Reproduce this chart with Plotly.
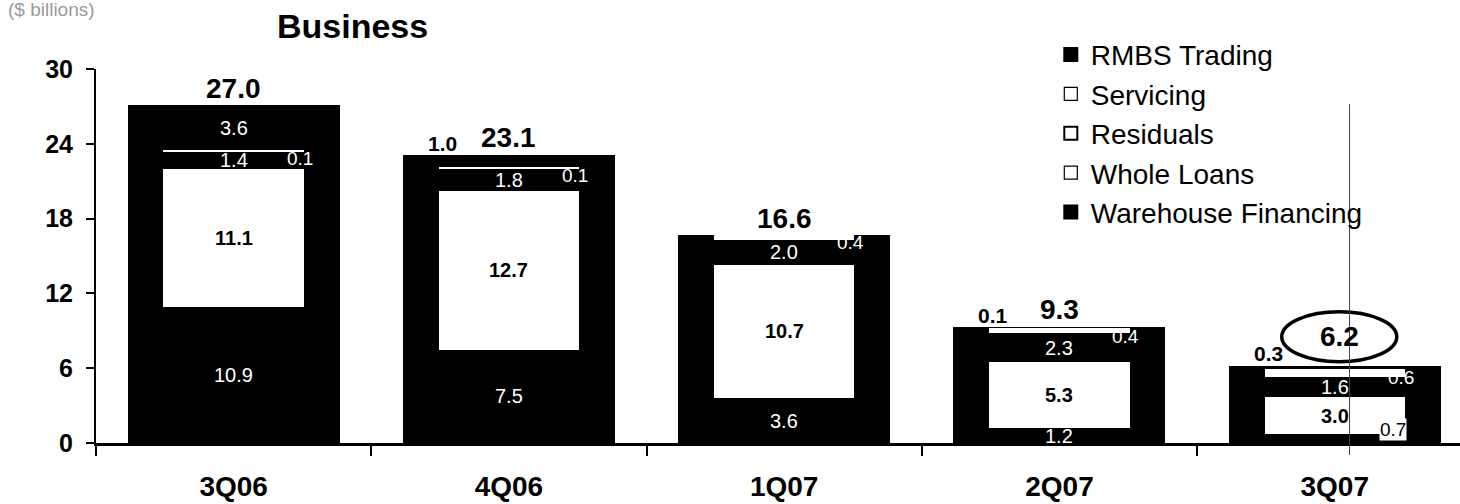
import plotly.graph_objects as go

# Quarterly exposure of the mortgage business, $ billions
quarters = ["3Q06", "4Q06", "1Q07", "2Q07", "3Q07"]
warehouse = [10.9, 7.5, 3.6, 1.2, 0.7]
whole_loans = [11.1, 12.7, 10.7, 5.3, 3.0]
servicing = [1.4, 1.8, 2.0, 2.3, 1.6]
residuals = [0.1, 0.1, 0.4, 0.4, 0.6]
rmbs = [3.6, 1.0, 0.0, 0.1, 0.3]
totals = [27.0, 23.1, 16.6, 9.3, 6.2]
y_ticks = [0, 6, 12, 18, 24, 30]

FONT = "Liberation Sans, Arial, Helvetica, sans-serif"
BAR_W = 0.77
INSET_W = 0.51
CLEAR = "rgba(0,0,0,0)"

fig = go.Figure()

# Full-width stack, all segments dark
for vals in [warehouse, whole_loans, servicing, residuals, rmbs]:
    fig.add_trace(go.Bar(x=quarters, y=vals, width=BAR_W, marker=dict(color="black", line=dict(width=0)),
                         showlegend=False, hoverinfo="skip"))

# Narrower light panels for the whole-loan and residual layers, stacked on an overlay axis
for vals, col in [(warehouse, CLEAR), (whole_loans, "white"), (servicing, CLEAR), (residuals, "white")]:
    fig.add_trace(go.Bar(x=quarters, y=vals, width=INSET_W, xaxis="x2", yaxis="y2",
                         marker=dict(color=col, line=dict(width=0)), showlegend=False, hoverinfo="skip"))

# Legend entries
legend_items = [
    ("RMBS Trading", "square", 2),
    ("Servicing", "square-open", 1.2),
    ("Residuals", "square-open", 2),
    ("Whole Loans", "square-open", 1.2),
    ("Warehouse Financing", "square", 2),
]
for name, sym, lw in legend_items:
    fig.add_trace(go.Scatter(x=[None], y=[None], mode="markers", name=name,
                             marker=dict(symbol=sym, size=13, color="black", line=dict(color="black", width=lw))))

ann = []
def label(q, y, text, color, size, bold=False, xshift=0, yshift=0, bg=None):
    a = dict(x=q, y=y, xref="x", yref="y", text=f"<b>{text}</b>" if bold else text,
             showarrow=False, xshift=xshift, yshift=yshift, borderpad=0,
             font=dict(family=FONT, size=size, color=color))
    if bg:
        a["bgcolor"] = bg
    ann.append(a)

for i, q in enumerate(quarters):
    b1 = warehouse[i]
    b2 = b1 + whole_loans[i]
    b3 = b2 + servicing[i]
    b4 = b3 + residuals[i]
    top = b4 + rmbs[i]
    # warehouse financing
    if warehouse[i] >= 1:
        label(q, b1 / 2, f"{warehouse[i]:.1f}", "white", 20)
    else:
        label(q, b1, f"{warehouse[i]:.1f}", "black", 19, xshift=58, yshift=5, bg="white")
    # whole loans
    label(q, b1 + whole_loans[i] / 2, f"{whole_loans[i]:.1f}", "black", 20, bold=True)
    # servicing
    label(q, b2 + servicing[i] / 2, f"{servicing[i]:.1f}", "white", 20)
    # residuals
    label(q, b4, f"{residuals[i]:.1f}", "white", 19, xshift=66, yshift=-8)
    # RMBS trading
    if rmbs[i] >= 2:
        label(q, b4 + rmbs[i] / 2, f"{rmbs[i]:.1f}", "white", 20)
    elif rmbs[i] > 0:
        label(q, top, f"{rmbs[i]:.1f}", "black", 21, bold=True, xshift=-66, yshift=12)
    # total
    last = i == len(quarters) - 1
    label(q, totals[i], f"{totals[i]:.1f}", "black", 28, bold=True,
          xshift=5 if last else 0, yshift=29 if last else 18)

# Heading and unit note
ann.append(dict(x=0.131, y=1.115, xref="paper", yref="paper", text="<b>Business</b>", showarrow=False,
                yanchor="middle", font=dict(family=FONT, size=34, color="black")))
ann.append(dict(x=-0.066, y=1.16, xref="paper", yref="paper", text="($ billions)", showarrow=False,
                xanchor="left", yanchor="middle", font=dict(family=FONT, size=19, color="#9a9a9a")))

shapes = [
    # ring around the latest total
    dict(type="circle", xref="x", yref="y", xsizemode="pixel", ysizemode="pixel",
         xanchor=quarters[-1], x0=-53, x1=62, yanchor=totals[-1], y0=4, y1=54,
         line=dict(color="black", width=3.5)),
    # thin vertical rule on the right
    dict(type="line", xref="paper", yref="paper", x0=0.919, x1=0.919, y0=0.906, y1=-0.032,
         line=dict(color="#444", width=1)),
]

xr = [-0.5, 4.455]
fig.update_layout(
    width=1460, height=504, autosize=False,
    margin=dict(l=96, r=0, t=69, b=61),
    paper_bgcolor="white", plot_bgcolor="white",
    barmode="stack", bargap=0,
    font=dict(family=FONT, color="black"),
    xaxis=dict(type="category", categoryarray=quarters, range=xr, showline=True, linecolor="black",
               linewidth=3, ticks="outside", tickson="boundaries", ticklen=10, tickwidth=1.5,
               tickcolor="black", showgrid=False, zeroline=False,
               tickfont=dict(family=FONT, size=28, color="black", weight="bold"), ticklabelstandoff=16),
    yaxis=dict(range=[0, 30], tickvals=y_ticks, showline=True, linecolor="black", linewidth=2,
               ticks="outside", ticklen=8, tickwidth=1.5, tickcolor="black", showgrid=False,
               zeroline=False, tickfont=dict(family=FONT, size=25, color="black", weight="bold"),
               ticklabelstandoff=8),
    xaxis2=dict(type="category", categoryarray=quarters, range=xr, overlaying="x", visible=False),
    yaxis2=dict(range=[0, 30], overlaying="y", visible=False),
    legend=dict(x=0.70, y=1.105, xanchor="left", yanchor="top", bgcolor=CLEAR,
                font=dict(family=FONT, size=28, color="black"), traceorder="normal",
                itemclick=False, itemdoubleclick=False),
    annotations=ann,
    shapes=shapes,
)

fig.write_html("out.html")
